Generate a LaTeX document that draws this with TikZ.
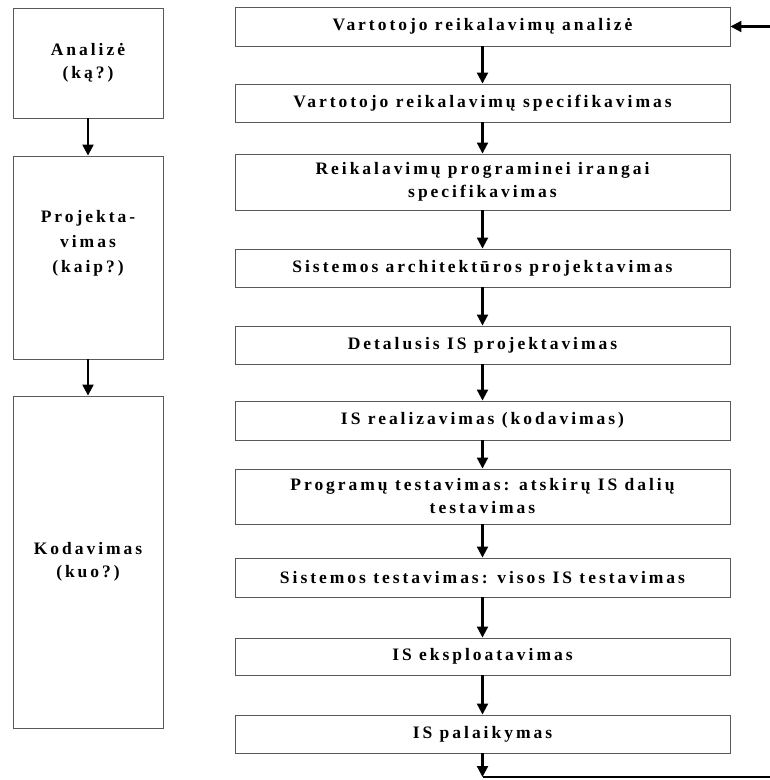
\documentclass[tikz,border=0pt]{standalone}
\usepackage{fontspec}
\setmainfont{Liberation Serif}[LetterSpace=17]
\usetikzlibrary{arrows.meta}
\begin{document}
\begin{tikzpicture}[x=1pt,y=-1pt,
  box/.style={draw=black!65, line width=0.9pt, inner sep=0pt, align=center,
    font=\fontsize{17.5}{23}\bfseries\selectfont},
  stage/.style={box, minimum width=495pt},
  phase/.style={box, minimum width=150pt},
  phasetext/.style={inner sep=0pt, align=center,
    font=\fontsize{17.5}{25}\bfseries\selectfont},
  flow/.style={line width=2.1pt, -{Triangle[length=11pt,width=11pt]}},
  plain/.style={line width=2.1pt}
]
\useasboundingbox (0,0) rectangle (770,780);

% life-cycle stages
\node[stage, minimum height=39pt] (s1)  at (482.5,26.5)  {Vartotojo reikalavimų analizė};
\node[stage, minimum height=38pt] (s2)  at (482.5,103)   {Vartotojo reikalavimų specifikavimas};
\node[stage, minimum height=56pt] (s3)  at (482.5,182)   {Reikalavimų programinei irangai\\specifikavimas};
\node[stage, minimum height=38pt] (s4)  at (482.5,268)   {Sistemos architektūros projektavimas};
\node[stage, minimum height=38pt] (s5)  at (482.5,345)   {Detalusis IS projektavimas};
\node[stage, minimum height=39pt] (s6)  at (482.5,420.5) {IS realizavimas (kodavimas)};
\node[stage, minimum height=55pt] (s7)  at (482.5,496.5) {Programų testavimas: atskirų IS dalių\\testavimas};
\node[stage, minimum height=39pt] (s8)  at (482.5,577.5) {Sistemos testavimas: visos IS testavimas};
\node[stage, minimum height=37pt] (s9)  at (482.5,656.5) {IS eksploatavimas};
\node[stage, minimum height=38pt] (s10) at (482.5,734)   {IS palaikymas};

\foreach \a/\b in {s1/s2,s2/s3,s3/s4,s4/s5,s5/s6,s6/s7,s7/s8,s8/s9,s9/s10}
  \draw[flow] (\a.south) -- (\b.north);

% feedback loop back to the first stage
\coordinate (fbB) at (482.5,777);
\coordinate (fbR) at (772,777);
\coordinate (fbT) at (772,26.5);
\draw[flow] (s10.south) -- (fbB);
\draw[plain] (fbB) -- (fbR);
\draw[flow] (fbT) -- (s1.east);

% phases
\node[phase, minimum height=110pt] (p1) at (88,63)    {Analizė\\(ką?)};
\node[phase, minimum height=203pt] (p2) at (88,257.5) {};
\node[phasetext] (p2t) at (88,243) {Projekta-\\vimas\\(kaip?)};
\node[phase, minimum height=332pt] (p3) at (88,562)   {Kodavimas\\(kuo?)};

\draw[flow] (p1.south) -- (p2.north);
\draw[flow] (p2.south) -- (p3.north);
\end{tikzpicture}
\end{document}
